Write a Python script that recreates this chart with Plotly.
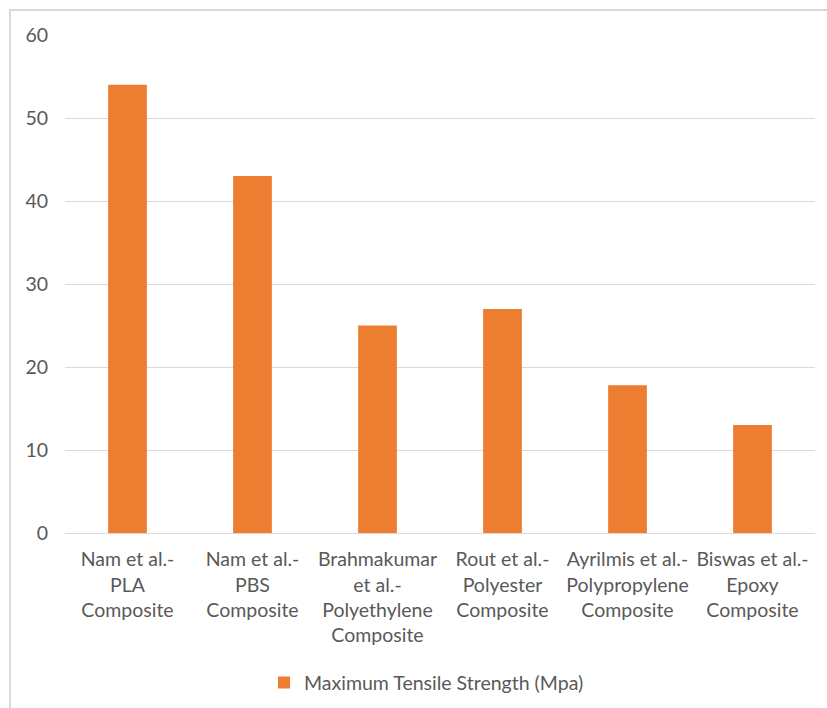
import plotly.graph_objects as go

categories = [
    "Nam et al.-<br>PLA<br>Composite",
    "Nam et al.-<br>PBS<br>Composite",
    "Brahmakumar<br>et al.-<br>Polyethylene<br>Composite",
    "Rout et al.-<br>Polyester<br>Composite",
    "Ayrilmis et al.-<br>Polypropylene<br>Composite",
    "Biswas et al.-<br>Epoxy<br>Composite",
]
tensile_strength = [54, 43, 25, 27, 17.8, 13]
y_ticks = [0, 10, 20, 30, 40, 50, 60]
series_name = "Maximum Tensile Strength (Mpa)"

FONT = "Lato, Carlito, Calibri, sans-serif"
TEXT = "#595959"
GRID = "#d9d9d9"
FS = 19.5

fig = go.Figure(
    go.Bar(
        x=categories,
        y=tensile_strength,
        name=series_name,
        marker=dict(color="#ED7D31", line=dict(width=0)),
        showlegend=True,
    )
)

fig.update_layout(
    width=827,
    height=708,
    margin=dict(l=65, r=12, t=35, b=175, autoexpand=False),
    paper_bgcolor="white",
    plot_bgcolor="white",
    bargap=0.69,
    font=dict(family=FONT, size=FS, color=TEXT),
    legend=dict(
        orientation="h",
        x=0.482,
        xanchor="center",
        y=-0.301,
        yanchor="middle",
        font=dict(family=FONT, size=FS, color=TEXT),
        itemwidth=30,
    ),
    shapes=[
        dict(
            type="rect", xref="paper", yref="paper",
            x0=-55 / 750, x1=1.2, y0=-0.6, y1=1 + 25 / 498,
            line=dict(color="#d9d9d9", width=2), fillcolor="rgba(0,0,0,0)",
            layer="below",
        )
    ],
)

fig.update_xaxes(
    automargin=False,
    showgrid=False,
    showline=True,
    linecolor=GRID,
    linewidth=1,
    ticks="outside",
    ticklen=9,
    tickcolor="rgba(0,0,0,0)",
    tickfont=dict(family=FONT, size=FS, color=TEXT),
    tickangle=0,
)
fig.update_yaxes(
    automargin=False,
    range=[0, 60],
    tickvals=y_ticks,
    showgrid=True,
    gridcolor=GRID,
    gridwidth=1,
    zeroline=False,
    showline=False,
    ticks="outside",
    ticklen=12,
    tickcolor="rgba(0,0,0,0)",
    tickfont=dict(family=FONT, size=FS, color=TEXT),
)

fig.write_html("out.html")
